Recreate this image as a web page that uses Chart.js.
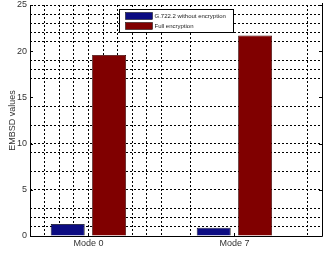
<!DOCTYPE html>
<html><head><meta charset="utf-8">
<script src="https://cdn.jsdelivr.net/npm/chart.js@4"></script>
<style>html,body{margin:0;padding:0;background:#fff}#w{width:327px;height:255px}</style>
</head><body><div id="w"><canvas id="c" width="327" height="255"></canvas></div>
<script>
const categories = ['Mode 0', 'Mode 7'];
const seriesNames = ['G.722.2 without encryption', 'Full encryption'];
const withoutEncryption = [1.3, 0.9];
const fullEncryption = [19.6, 21.7];
const yTickLabels = [0, 5, 10, 15, 20, 25];
const yGridValues = [1, 2, 3, 5, 7, 9, 10, 12, 14, 17, 18, 19, 21, 22, 23, 24, 25];
const xGridValues = [0.7, 0.8, 0.9, 1.0, 1.1, 1.2, 1.3, 1.4, 1.5, 1.7, 2.5];
const yTitle = 'EMBSD values';

const FONT = {family: '"Liberation Sans", Arial, sans-serif', size: 9};
const TXT = '#333';

const framePlugin = {
  id: 'frame',
  afterDraw(chart) {
    const ctx = chart.ctx, ca = chart.chartArea;
    const ys = chart.scales.y, xs = chart.scales.x;
    ctx.save();
    ctx.strokeStyle = '#000'; ctx.lineWidth = 1; ctx.setLineDash([]);
    ctx.beginPath();
    ctx.moveTo(ca.left + 0.5, ca.top); ctx.lineTo(ca.left + 0.5, ca.bottom + 0.5);
    ctx.lineTo(ca.right + 0.5, ca.bottom + 0.5); ctx.lineTo(ca.right + 0.5, ca.top - 2);
    ctx.stroke();
    ctx.beginPath();
    yTickLabels.forEach(v => {
      const py = Math.round(ys.getPixelForValue(v)) + 0.5;
      ctx.moveTo(ca.left, py); ctx.lineTo(ca.left + 3, py);
      ctx.moveTo(ca.right, py); ctx.lineTo(ca.right - 3, py);
    });
    categories.forEach((c, i) => {
      const px = Math.round(xs.getPixelForValue(i + 1)) + 0.5;
      ctx.moveTo(px, ca.bottom); ctx.lineTo(px, ca.bottom - 3);
    });
    ctx.stroke();
    const lx = ca.left + 89.5, ly = ca.top + 4.5, lw = 114, lh = 23;
    ctx.fillStyle = '#fff';
    ctx.fillRect(lx, ly, lw, lh);
    ctx.strokeRect(lx, ly, lw, lh);
    ctx.font = '6px "Liberation Sans", Arial, sans-serif';
    ctx.textBaseline = 'middle';
    chart.data.datasets.forEach((ds, i) => {
      const sy = ly + 3 + i * 10;
      ctx.fillStyle = ds.backgroundColor;
      ctx.fillRect(lx + 6, sy, 27, 7);
      ctx.strokeStyle = '#000'; ctx.lineWidth = 0.5;
      ctx.strokeRect(lx + 6, sy, 27, 7);
      ctx.fillStyle = '#222';
      ctx.fillText(ds.label, lx + 35, sy + 3.5);
    });
    ctx.restore();
  }
};

new Chart(document.getElementById('c'), {
  type: 'bar',
  data: {
    datasets: [
      {label: seriesNames[0], data: withoutEncryption.map((v, i) => ({x: i + 1, y: v})),
       backgroundColor: '#0c0c82', borderColor: '#000', borderWidth: 0.8,
       categoryPercentage: 0.567, barPercentage: 0.82, xAxisID: 'x', yAxisID: 'y'},
      {label: seriesNames[1], data: fullEncryption.map((v, i) => ({x: i + 1, y: v})),
       backgroundColor: '#800000', borderColor: '#300', borderWidth: 0.8,
       categoryPercentage: 0.567, barPercentage: 0.82, xAxisID: 'x', yAxisID: 'y'}
    ]
  },
  options: {
    responsive: false, animation: false, devicePixelRatio: 1,
    layout: {padding: {top: 5, right: 5, left: 0, bottom: 0}},
    plugins: {legend: {display: false}, tooltip: {enabled: false}},
    scales: {
      x: {
        type: 'linear', position: 'bottom', min: 0.6, max: 2.6, weight: 1, offset: false,
        afterBuildTicks: s => { s.ticks = categories.map((c, i) => ({value: i + 1})); },
        ticks: {callback: (v, i) => categories[i], font: FONT, color: TXT, padding: 2,
                autoSkip: false, maxRotation: 0},
        grid: {display: false, drawTicks: false, offset: false},
        border: {display: false},
        afterFit: s => { s.height = 19; s.paddingLeft = 0; s.paddingRight = 0; }
      },
      xg: {
        type: 'linear', position: 'bottom', min: 0.6, max: 2.6, weight: 2, offset: false,
        afterBuildTicks: s => { s.ticks = xGridValues.map(v => ({value: v})); },
        ticks: {display: false},
        grid: {color: '#000', lineWidth: 1, drawTicks: false, offset: false},
        border: {display: false, dash: [2, 2]},
        afterFit: s => { s.height = 0; s.paddingLeft = 0; s.paddingRight = 0; }
      },
      y: {
        type: 'linear', min: 0, max: 25,
        afterBuildTicks: s => {
          const vals = Array.from(new Set(yTickLabels.concat(yGridValues))).sort((a, b) => a - b);
          s.ticks = vals.map(v => ({value: v}));
        },
        ticks: {callback: v => yTickLabels.includes(v) ? String(v) : '', font: FONT, color: TXT,
                padding: 3, autoSkip: false},
        grid: {color: c => (c.tick && yGridValues.includes(c.tick.value)) ? '#000' : 'rgba(0,0,0,0)',
               lineWidth: 1, drawTicks: false},
        border: {display: false, dash: [2, 2]},
        title: {display: true, text: yTitle, font: FONT, color: TXT, padding: {top: 7.5, bottom: 0}},
        afterFit: s => { s.width = 30; s.paddingTop = 0; s.paddingBottom = 0; }
      }
    }
  },
  plugins: [framePlugin]
});
</script>
</body></html>
